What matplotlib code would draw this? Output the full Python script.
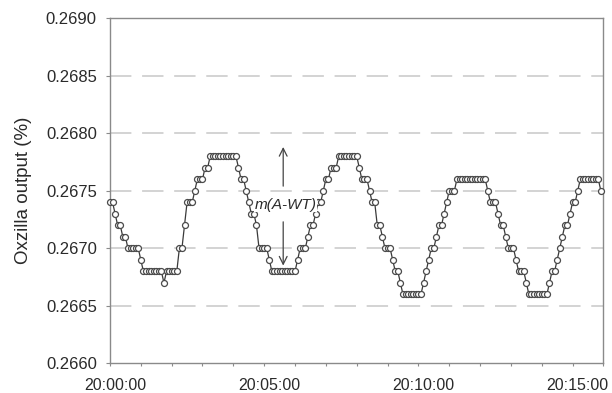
import numpy as np
import matplotlib
matplotlib.use("Agg")
import matplotlib.pyplot as plt
import matplotlib.dates as mdates
import matplotlib.transforms as mtransforms

plt.rcParams['font.family'] = ['Liberation Sans', 'DejaVu Sans']

# Oxzilla readings, one sample every 5 s from 20:00:00, stored as run lengths
levels = [0.2674, 0.2673, 0.2672, 0.2671, 0.2670, 0.2669, 0.2668, 0.2667, 0.2668,
          0.2670, 0.2672, 0.2674, 0.2675, 0.2676, 0.2677, 0.2678,
          0.2677, 0.2676, 0.2675, 0.2674, 0.2673, 0.2672, 0.2670, 0.2669, 0.2668,
          0.2669, 0.2670, 0.2671, 0.2672, 0.2673, 0.2674, 0.2675, 0.2676, 0.2677, 0.2678,
          0.2677, 0.2676, 0.2675, 0.2674, 0.2672, 0.2671, 0.2670, 0.2669, 0.2668, 0.2667, 0.2666,
          0.2667, 0.2668, 0.2669, 0.2670, 0.2671, 0.2672, 0.2673, 0.2674, 0.2675, 0.2676,
          0.2675, 0.2674, 0.2673, 0.2672, 0.2671, 0.2670, 0.2669, 0.2668, 0.2667, 0.2666,
          0.2667, 0.2668, 0.2669, 0.2670, 0.2671, 0.2672, 0.2673, 0.2674, 0.2675, 0.2676,
          0.2675]
counts = [2, 1, 2, 2, 5, 1, 8, 1, 5,
          2, 1, 3, 1, 3, 2, 11,
          1, 2, 1, 1, 2, 1, 4, 1, 10,
          1, 3, 1, 2, 1, 2, 1, 2, 3, 8,
          1, 3, 1, 2, 2, 1, 3, 1, 2, 1, 8,
          1, 1, 1, 2, 1, 2, 1, 1, 3, 12,
          1, 3, 1, 2, 1, 3, 1, 3, 1, 8,
          1, 2, 1, 1, 1, 2, 1, 2, 1, 8,
          1]
sample_step_s = 5
start = np.datetime64('2000-01-01T20:00:00')
end = np.datetime64('2000-01-01T20:16:00')

yticks = [0.2660, 0.2665, 0.2670, 0.2675, 0.2680, 0.2685, 0.2690]
ylabel = "Oxzilla output (%)"
note = "m(A-WT)"
note_time = np.datetime64('2000-01-01T20:05:37')
note_text_time = np.datetime64('2000-01-01T20:05:41')
note_y = 0.26738
arrow_up = (0.26754, 0.26788)
arrow_down = (0.26723, 0.26685)

values = np.repeat(levels, counts)
times = start + np.arange(len(values)) * np.timedelta64(sample_step_s, 's')

fig = plt.figure(figsize=(6.12, 3.93), dpi=100)
ax = fig.add_axes([0.1797, 0.0751, 0.8063, 0.8791])

spine_col = '#8a8a8a'
text_col = '#2a2a2a'

for y in yticks[1:-1]:
    ax.axhline(y, color='#c8c8c8', lw=1.1, dashes=(14, 7), zorder=0)

ax.plot(times, values, color='#3a3a3a', lw=0.9, marker='o', ms=4.3,
        mfc='white', mec='#4a4a4a', mew=0.9, zorder=3, clip_on=False)

ax.set_xlim(start, end)
ax.set_ylim(0.2660, 0.2690)
ax.set_yticks(yticks)
ax.yaxis.set_major_formatter(plt.FormatStrFormatter('%.4f'))

ax.xaxis.set_major_locator(mdates.MinuteLocator(byminute=range(0, 60, 5)))
ax.xaxis.set_minor_locator(mdates.MinuteLocator())
ax.xaxis.set_major_formatter(mdates.DateFormatter('%H:%M:%S'))

for s in ax.spines.values():
    s.set_color(spine_col)
    s.set_linewidth(1.0)

ax.tick_params(axis='y', which='both', direction='out', length=3, width=0.8,
               color=spine_col, labelsize=12, labelcolor=text_col, pad=6.5)
ax.tick_params(axis='x', which='both', direction='out', length=2.5, width=0.8,
               color=spine_col, labelsize=11.5, labelcolor=text_col, pad=8)

offset = mtransforms.ScaledTranslation(5 / 100, 0, fig.dpi_scale_trans)
for lab in ax.get_xticklabels():
    lab.set_transform(lab.get_transform() + offset)

ax.set_ylabel(ylabel, fontsize=13.5, color=text_col, labelpad=10)

ax.text(note_text_time, note_y, note, style='italic', fontsize=11, color=text_col,
        ha='center', va='center', zorder=5,
        bbox=dict(facecolor='white', edgecolor='none', pad=0.3))
ax.annotate('', xy=(note_time, arrow_up[1]), xytext=(note_time, arrow_up[0]),
            arrowprops=dict(arrowstyle='->', color='#444444', lw=0.9,
                            mutation_scale=14, shrinkA=0, shrinkB=0))
ax.annotate('', xy=(note_time, arrow_down[1]), xytext=(note_time, arrow_down[0]),
            arrowprops=dict(arrowstyle='->', color='#444444', lw=0.9,
                            mutation_scale=14, shrinkA=0, shrinkB=0))

fig.savefig("out.png", dpi=100)
